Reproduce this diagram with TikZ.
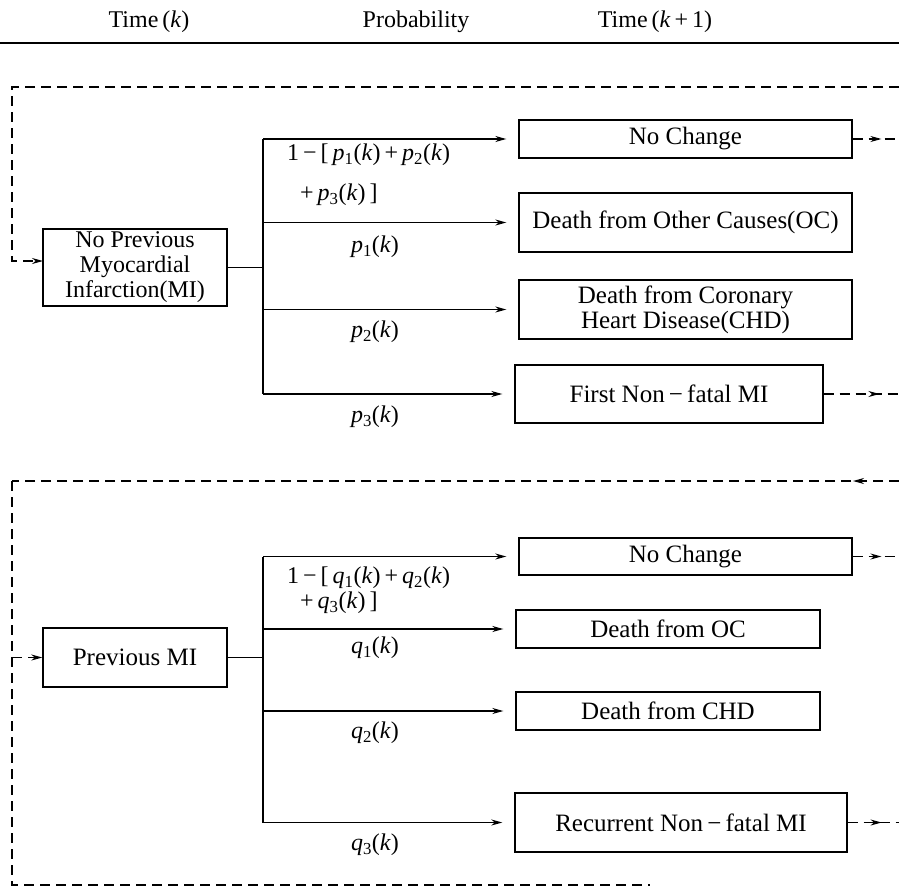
\documentclass[tikz,border=0pt]{standalone}
\usepackage{fontspec}
\setmainfont{Liberation Serif}
\usetikzlibrary{arrows.meta,decorations.markings}
% italic variable with a subscript and argument, e.g. p_1(k)
\newcommand{\pv}[2]{\textit{#1}\textsubscript{#2}(\textit{k})}
\begin{document}
\begin{tikzpicture}[x=1pt,y=-1pt,
  box/.style={draw, line width=1.4pt, inner sep=0pt, align=center,
    font=\fontsize{25}{22.5}\selectfont},
  flow/.style={line width=1.3pt},
  tip/.style={-{Stealth[length=11pt,width=6pt]}},
  dashline/.style={line width=1.3pt, dash pattern=on 10pt off 6pt},
  midtip/.style={postaction={decorate}, decoration={markings,
    mark=at position #1 with {\arrow{Stealth[length=11pt,width=6pt]}}}},
  lab/.style={font=\fontsize{24}{24}\selectfont, inner sep=0pt},
  head/.style={font=\fontsize{24}{24}\selectfont, inner sep=0pt}]

\useasboundingbox (0,0) rectangle (899,891);

% column headings and rule
\node[head] (h1) at (149,22) {Time\,(\textit{k})};
\node[head] (h2) at (416,22) {Probability};
\node[head] (h3) at (655,22) {Time\,(\textit{k}\,+\,1)};
\coordinate (rl) at (0,43);
\coordinate (rr) at (899,43);
\draw[line width=1.4pt] (rl) -- (rr);

% ---------- patients without a previous MI ----------
\node[box, font=\fontsize{24}{25}\selectfont, minimum width=184pt, minimum height=77pt]
  (nmi) at (135,267.5) {No Previous\\Myocardial\\Infarction(MI)};
\node[box, minimum width=333pt, minimum height=38pt] (nc1) at (685.5,139) {No Change};
\node[box, minimum width=333pt, minimum height=59pt] (oc1) at (685.5,222.5)
  {Death from Other Causes(OC)};
\node[box, font=\fontsize{25}{25}\selectfont, minimum width=333pt, minimum height=59pt]
  (chd1) at (685.5,309.5) {Death from Coronary\\Heart Disease(CHD)};
\node[box, minimum width=308pt, minimum height=58pt] (nf1) at (669,394)
  {First Non\,−\,fatal MI};

\coordinate (j1) at (263,267.5);
\draw[flow] (nmi.east) -- (j1);
\draw[flow] (j1 |- nc1.west) -- (j1 |- nf1.west);
\foreach \b in {nc1,oc1,chd1,nf1}
  \draw[flow,tip] (j1 |- \b.west) -- ([xshift=-12pt]\b.west);

\node[lab, anchor=west] (pa) at (287,155) {1\,−\,[\,\pv{p}{1}\,+\,\pv{p}{2}};
\node[lab, anchor=west] (pb) at (300,195) {+\,\pv{p}{3}\,]};
\node[lab] (p1) at (375,247) {\pv{p}{1}};
\node[lab] (p2) at (375,332) {\pv{p}{2}};
\node[lab] (p3) at (375,417) {\pv{p}{3}};

% return loop: no change -> no previous MI
\coordinate (e1) at (899,139);
\coordinate (tr) at (899,87);
\coordinate (tl) at (12,87);
\coordinate (in1) at (43,261);
\draw[dashline, midtip=0.62] (nc1.east) -- (e1);
\draw[dashline, tip] (tr) -- (tl) -- (tl |- in1) -- (in1);

% ---------- patients with a previous MI ----------
\node[box, minimum width=184pt, minimum height=59pt] (pmi) at (135,657.5) {Previous MI};
\node[box, minimum width=333pt, minimum height=37pt] (nc2) at (685.5,556.5) {No Change};
\node[box, minimum width=304pt, minimum height=38pt] (oc2) at (668,629) {Death from OC};
\node[box, minimum width=304pt, minimum height=38pt] (chd2) at (668,711) {Death from CHD};
\node[box, minimum width=332pt, minimum height=59pt] (rmi) at (681,822.5)
  {Recurrent Non\,−\,fatal MI};

\coordinate (j2) at (263,657.5);
\draw[flow] (pmi.east) -- (j2);
\draw[flow] (j2 |- nc2.west) -- (j2 |- rmi.west);
\foreach \b in {nc2,oc2,chd2,rmi}
  \draw[flow,tip] (j2 |- \b.west) -- ([xshift=-12pt]\b.west);

\node[lab, anchor=west] (qa) at (287,578) {1\,−\,[\,\pv{q}{1}\,+\,\pv{q}{2}};
\node[lab, anchor=west] (qb) at (300,603) {+\,\pv{q}{3}\,]};
\node[lab] (q1) at (375,648) {\pv{q}{1}};
\node[lab] (q2) at (375,733) {\pv{q}{2}};
\node[lab] (q3) at (375,845) {\pv{q}{3}};

% exits to the right
\coordinate (e2) at (899,394);
\coordinate (e3) at (899,556.5);
\coordinate (e4) at (899,822.5);
\draw[dashline, midtip=0.74] (nf1.east) -- (e2);
\draw[dashline, midtip=0.62] (nc2.east) -- (e3);
\draw[dashline, midtip=0.66] (rmi.east) -- (e4);

% return loop into previous MI
\coordinate (mr) at (899,481);
\coordinate (ml) at (12,481);
\coordinate (bl) at (12,885);
\coordinate (br) at (650,885);
\coordinate (in2) at (12,657.5);
\draw[dashline, midtip=46pt] (mr) -- (ml);
\draw[dashline] (ml) -- (bl) -- (br);
\draw[dashline, tip] (in2) -- (pmi.west);

\end{tikzpicture}
\end{document}
